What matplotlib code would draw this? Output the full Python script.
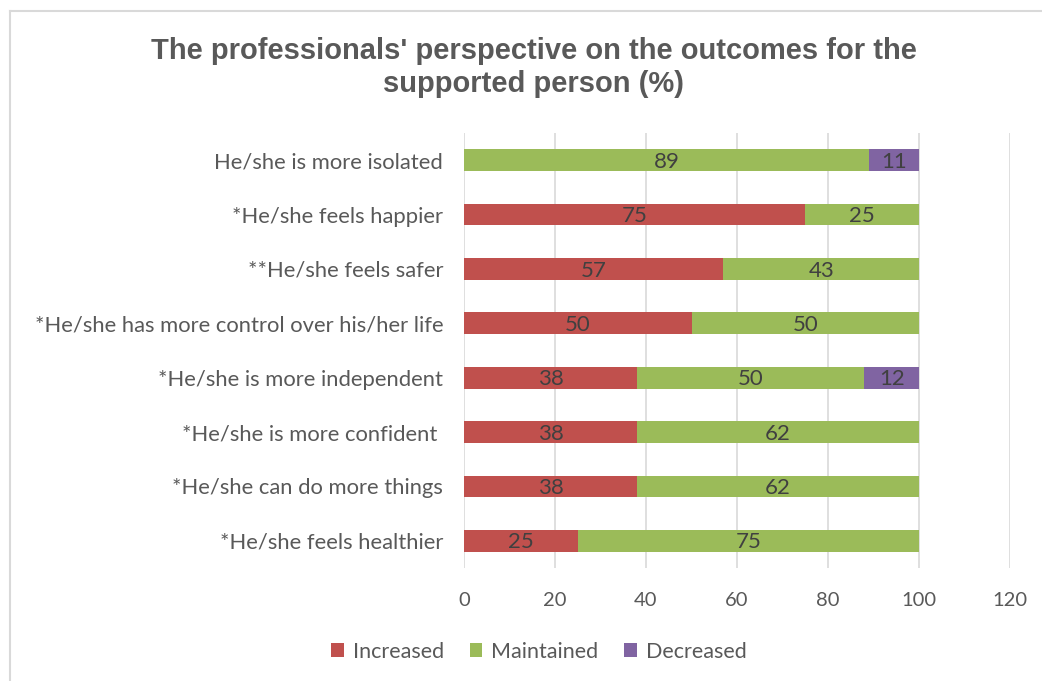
import matplotlib.pyplot as plt
from matplotlib.lines import Line2D
from matplotlib.patches import Patch

# statements, listed bottom to top
statements = [
    "*He/she feels healthier",
    "*He/she can do more things",
    "*He/she is more confident ",
    "*He/she is more independent",
    "*He/she has more control over his/her life",
    "**He/she feels safer",
    "*He/she feels happier",
    "He/she is more isolated",
]
increased = [25, 38, 38, 38, 50, 57, 75, 0]
maintained = [75, 62, 62, 50, 50, 43, 25, 89]
decreased = [0, 0, 0, 12, 0, 0, 0, 11]

series_names = ["Increased", "Maintained", "Decreased"]
colors = ["#C0504D", "#9BBB59", "#8064A2"]
x_ticks = [0, 20, 40, 60, 80, 100, 120]

plt.rcParams['font.family'] = ['Lato', 'DejaVu Sans']

fig = plt.figure(figsize=(10.42, 6.81), dpi=100)
ax = fig.add_axes([0.4453, 0.1659, 0.5240, 0.6388])

y = range(len(statements))
left = [0] * len(statements)
for vals, name, col in zip([increased, maintained, decreased], series_names, colors):
    bars = ax.barh(y, vals, left=left, height=0.4, color=col, label=name, zorder=3)
    for b, v in zip(bars, vals):
        if v > 0:
            ax.text(b.get_x() + b.get_width() / 2, b.get_y() + b.get_height() / 2 - 0.03,
                    str(v), ha='center', va='center', fontsize=16, color='#404040', zorder=4)
    left = [l + v for l, v in zip(left, vals)]

ax.set_xlim(0, 120)
ax.set_ylim(-0.5, len(statements) - 0.5)
ax.set_xticks(x_ticks)
ax.set_yticks(list(y))
ax.set_yticklabels(statements)
ax.tick_params(axis='both', length=0, colors='#595959')
ax.tick_params(axis='x', pad=17, labelsize=14.5)
ax.tick_params(axis='y', pad=15, labelsize=15.8)
ax.grid(axis='x', color='#D9D9D9', linewidth=1.2, zorder=0)
for s in ax.spines.values():
    s.set_visible(False)

fig.text(0.512, 0.901, "The professionals' perspective on the outcomes for the\nsupported person (%)",
         ha='center', va='center', fontsize=21, fontweight='bold', color='#595959',
         family='Liberation Sans', linespacing=1.2)

handles = [Patch(facecolor=c, edgecolor='none') for c in colors]
fig.legend(handles, series_names, loc='center', bbox_to_anchor=(0.517, 0.043), ncol=3,
           frameon=False, fontsize=15.5, labelcolor='#595959', handlelength=0.6,
           handleheight=0.6, handletextpad=0.4, columnspacing=1.2)

# outer chart border (top and left edges visible)
fig.add_artist(Line2D([0.0096, 1.0], [0.9838, 0.9838], color='#D9D9D9', linewidth=1.5,
                      transform=fig.transFigure))
fig.add_artist(Line2D([0.0096, 0.0096], [0.0, 0.9838], color='#D9D9D9', linewidth=1.5,
                      transform=fig.transFigure))

fig.savefig("out.png", dpi=100)
